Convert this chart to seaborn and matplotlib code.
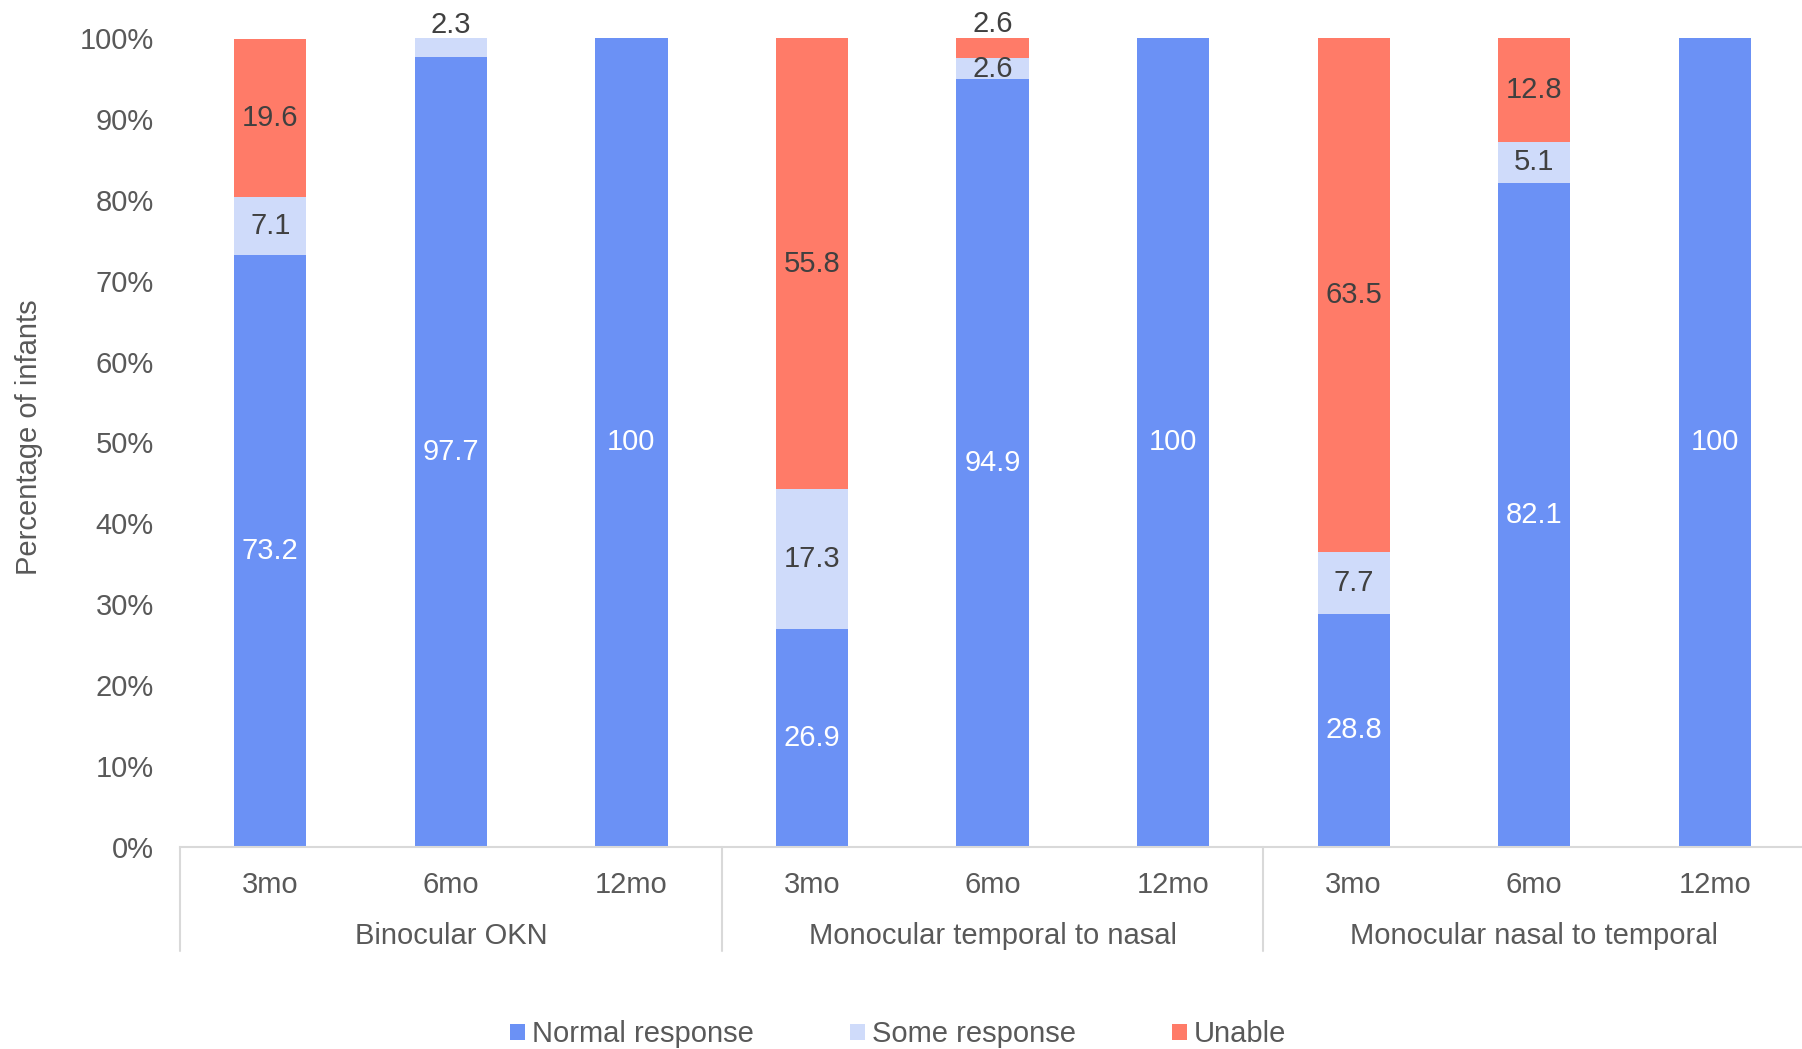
import numpy as np
import pandas as pd
import matplotlib
matplotlib.use("Agg")
import matplotlib.pyplot as plt
import seaborn as sns
from matplotlib.patches import Patch
from matplotlib.transforms import blended_transform_factory

# Data
groups = ["Binocular OKN", "Monocular temporal to nasal", "Monocular nasal to temporal"]
ages = ["3mo", "6mo", "12mo"]
normal = [73.2, 97.7, 100, 26.9, 94.9, 100, 28.8, 82.1, 100]
some = [7.1, 2.3, 0, 17.3, 2.6, 0, 7.7, 5.1, 0]
unable = [19.6, 0, 0, 55.8, 2.6, 0, 63.5, 12.8, 0]
series_names = ["Normal response", "Some response", "Unable"]
yticks = [0, 10, 20, 30, 40, 50, 60, 70, 80, 90, 100]

colors = ["#6B91F5", "#CFDBFA", "#FF7B68"]
label_colors = ["white", "#404040", "#404040"]
text_grey = "#595959"
line_grey = "#D9D9D9"
FS = 21

sns.set_theme(style="white")
plt.rcParams["font.family"] = ["Liberation Sans", "DejaVu Sans"]

keys = [f"{g}|{a}" for g in groups for a in ages]
series = [normal, some, unable]
df = pd.DataFrame({"key": keys})
for name, vals in zip(series_names, series):
    df[name] = vals

fig = plt.figure(figsize=(18.02, 10.49), dpi=100)
ax = fig.add_axes([0.0999, 0.1926, 0.9018, 0.7712])

# Stacked bars: draw cumulative totals from the top layer down
cum = df[series_names].cumsum(axis=1)
for j in reversed(range(len(series_names))):
    sub = pd.DataFrame({"key": df["key"], "top": cum[series_names[j]],
                        "seg": df[series_names[j]]})
    sub = sub[sub["seg"] > 0]
    sns.barplot(data=sub, x="key", y="top", order=keys, color=colors[j],
                saturation=1, width=0.4, errorbar=None, linewidth=0, ax=ax)

# Value labels (a thin top segment gets its label just above the bar)
for i in range(len(keys)):
    bottom = 0.0
    vals = [s[i] for s in series]
    nz = [j for j, v in enumerate(vals) if v > 0]
    for j, v in enumerate(vals):
        if v <= 0:
            continue
        top = bottom + v
        above = j == nz[-1] and v < 3 and j > 0
        y = top + 1.6 if above else bottom + v / 2
        ax.text(i, y, f"{v:g}", ha="center", va="center", fontsize=FS,
                color="#404040" if above else label_colors[j], clip_on=False)
        bottom = top

ax.set_xlim(-0.5, 8.5)
ax.set_ylim(0, 100)
ax.set_yticks(yticks)
ax.set_yticklabels([f"{t}%" for t in yticks])
ax.set_xticks(range(len(keys)))
ax.set_xticklabels(ages * len(groups))
ax.tick_params(axis="both", length=0, labelsize=FS, labelcolor=text_grey)
ax.tick_params(axis="y", pad=19)
ax.tick_params(axis="x", pad=17)
ax.set_xlabel("")
ax.set_ylabel("")

for side in ["left", "right", "top"]:
    ax.spines[side].set_visible(False)
ax.spines["bottom"].set_color(line_grey)
ax.spines["bottom"].set_linewidth(1.5)

# Group separators and group names
trans = blended_transform_factory(ax.transData, ax.transAxes)
for b in [-0.5, 2.5, 5.5]:
    ax.plot([b, b], [0, -0.1286], transform=trans, color=line_grey,
            lw=1.5, clip_on=False)
for k, g in enumerate(groups):
    ax.text(3 * k + 1, -0.1200, g, transform=trans, ha="center",
            va="baseline", fontsize=FS, color=text_grey)

fig.text(29 / 1802, 0.583, "Percentage of infants", rotation=90,
         ha="center", va="center", fontsize=FS, color=text_grey)

handles = [Patch(facecolor=c, edgecolor="none", label=n)
           for c, n in zip(colors, series_names)]
leg = fig.legend(handles=handles, loc="center", bbox_to_anchor=(0.4985, 0.014),
                 ncol=3, frameon=False, fontsize=FS, handlelength=0.5,
                 handleheight=0.5, handletextpad=0.25, columnspacing=3.3)
for t in leg.get_texts():
    t.set_color(text_grey)

fig.savefig("out.png", dpi=100)
